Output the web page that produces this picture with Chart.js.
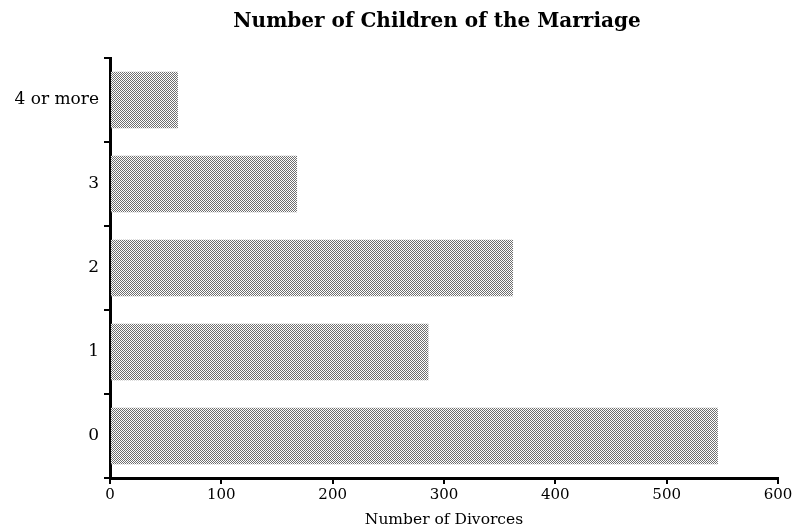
<!DOCTYPE html>
<html>
<head>
<meta charset="utf-8">
<script src="https://cdn.jsdelivr.net/npm/chart.js@4/dist/chart.umd.min.js"></script>
<style>
  html, body { margin: 0; padding: 0; background: #fff; }
  #wrap { width: 799px; height: 531px; }
</style>
</head>
<body>
<div id="wrap"><canvas id="children"></canvas></div>
<script>
var categories = ['4 or more', '3', '2', '1', '0'];
var divorces = [61, 168, 362, 286, 546];
var xTicks = [0, 100, 200, 300, 400, 500, 600];

// dotted grey fill like the old halftone print
function dotPattern() {
  var c = document.createElement('canvas');
  c.width = 2;
  c.height = 2;
  var g = c.getContext('2d');
  g.fillStyle = '#ffffff';
  g.fillRect(0, 0, 2, 2);
  g.fillStyle = '#6e6e6e';
  g.fillRect(0, 0, 1, 1);
  g.fillRect(1, 1, 1, 1);
  return g.createPattern(c, 'repeat');
}

// centre the title over the plot instead of the whole canvas
var titleOverPlot = {
  id: 'titleOverPlot',
  afterLayout: function(chart) {
    var t = chart.titleBlock;
    if (!t) return;
    t.left = chart.chartArea.left - 14;
    t.right = chart.chartArea.right;
  }
};

var serif = 'DejaVu Serif';
var ctx = document.getElementById('children');

new Chart(ctx, {
  type: 'bar',
  data: {
    labels: categories,
    datasets: [{
      label: 'Number of Divorces',
      data: divorces,
      backgroundColor: dotPattern(),
      borderWidth: 0,
      categoryPercentage: 1,
      barPercentage: 0.67
    }]
  },
  plugins: [titleOverPlot],
  options: {
    indexAxis: 'y',
    responsive: true,
    maintainAspectRatio: false,
    animation: false,
    layout: { padding: { left: 0, right: 21, top: 0, bottom: 2 } },
    plugins: {
      legend: { display: false },
      tooltip: { enabled: false },
      title: {
        display: true,
        text: 'Number of Children of the Marriage',
        color: '#000',
        font: { family: serif, size: 20, weight: 'bold' },
        padding: { top: 10, bottom: 24 }
      }
    },
    scales: {
      x: {
        min: 0,
        max: 600,
        afterFit: function(scale) { scale.height = 51; },
        afterBuildTicks: function(scale) {
          scale.ticks = xTicks.map(v => ({ value: v }));
        },
        border: { display: true, color: '#000', width: 3 },
        grid: { drawOnChartArea: false, color: '#000', lineWidth: 2, tickLength: 6 },
        ticks: {
          color: '#000',
          padding: 2,
          font: { family: serif, size: 15 }
        },
        title: {
          display: true,
          text: 'Number of Divorces',
          color: '#000',
          padding: 0,
          font: { family: serif, size: 15.5 }
        }
      },
      y: {
        afterFit: function(scale) { scale.width = 110; },
        border: { display: true, color: '#000', width: 3 },
        grid: { drawOnChartArea: false, color: '#000', lineWidth: 2, tickLength: 6 },
        ticks: {
          color: '#000',
          padding: 5,
          font: { family: serif, size: 17 }
        }
      }
    }
  }
});
</script>
</body>
</html>
